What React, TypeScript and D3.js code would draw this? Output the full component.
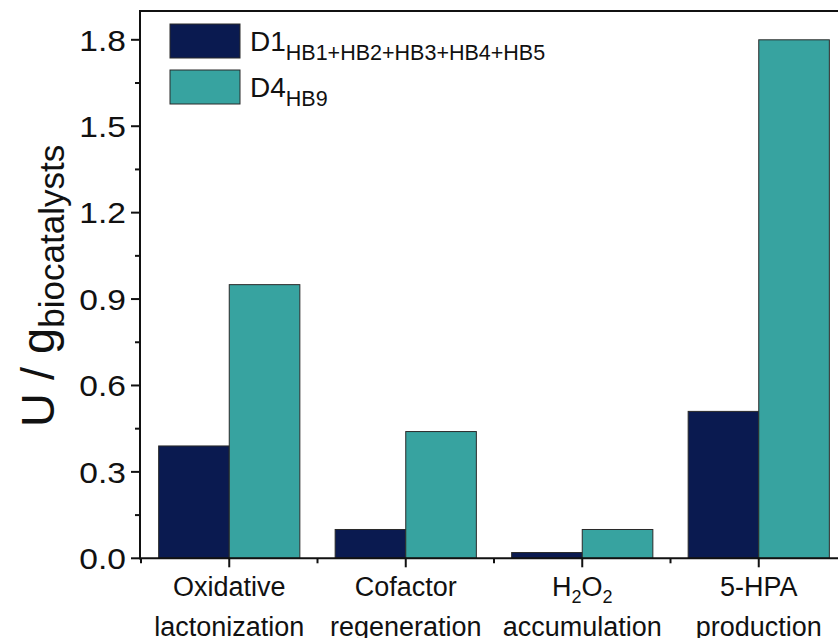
import React from "react";
import * as d3 from "d3";

const categories = ["Oxidative lactonization", "Cofactor regeneration", "H2O2 accumulation", "5-HPA production"];
const seriesNames = ["D1", "D4"];
const seriesD1 = [0.39, 0.1, 0.02, 0.51];
const seriesD4 = [0.95, 0.44, 0.1, 1.8];
const yTicks = [0, 0.3, 0.6, 0.9, 1.2, 1.5, 1.8];
const yMinorTicks = [0.15, 0.45, 0.75, 1.05, 1.35, 1.65];
const colors = ["#0a1a50", "#37a3a0"];

const W = 838;
const H = 638;
const left = 140;
const right = 847;
const top = 11;
const bottom = 558.3;
const FONT = "'Liberation Sans', Arial, Helvetica, sans-serif";

export default function App() {
  const x = d3.scaleBand<string>().domain(categories).range([left + 1, right]).paddingInner(0.2).paddingOuter(0.1);
  const xs = d3.scaleBand<string>().domain(seriesNames).range([0, x.bandwidth()]);
  const y = d3.scaleLinear().domain([0, 1.9]).range([bottom, top]);
  const series = [seriesD1, seriesD4];
  const step = x.step();

  const xLabel = (c: string) => {
    const cx = (x(c) as number) + x.bandwidth() / 2;
    const fs = 27;
    if (c.startsWith("H2O2")) {
      return (
        <g key={c}>
          <text x={cx} y={596} textAnchor="middle" fontSize={fs} fontFamily={FONT} fill="#111">
            H<tspan fontSize={18} dy={7}>2</tspan><tspan dy={-7}>O</tspan><tspan fontSize={18} dy={7}>2</tspan>
          </text>
          <text x={cx} y={636} textAnchor="middle" fontSize={fs} fontFamily={FONT} fill="#111">accumulation</text>
        </g>
      );
    }
    const parts = c.split(" ");
    return (
      <g key={c}>
        <text x={cx} y={596} textAnchor="middle" fontSize={fs} fontFamily={FONT} fill="#111">{parts[0]}</text>
        <text x={cx} y={636} textAnchor="middle" fontSize={fs} fontFamily={FONT} fill="#111">{parts[1]}</text>
      </g>
    );
  };

  return (
    <svg width={W} height={H} style={{ position: "absolute", left: 0, top: 0, background: "#fff" }}>
      {/* bars */}
      {categories.map((c, i) => (
        <g key={c} transform={`translate(${x(c)},0)`}>
          {series.map((s, j) => (
            <rect
              key={j}
              x={xs(seriesNames[j]) as number}
              y={y(s[i])}
              width={xs.bandwidth()}
              height={bottom - y(s[i])}
              fill={colors[j]}
              stroke="#2a2a2a"
              strokeWidth={1}
            />
          ))}
        </g>
      ))}

      {/* frame */}
      <line x1={left} x2={right} y1={top} y2={top} stroke="#111" strokeWidth={2} />
      <line x1={left} x2={left} y1={top - 1} y2={bottom + 1} stroke="#111" strokeWidth={2} />
      <line x1={left - 1} x2={right} y1={bottom} y2={bottom} stroke="#111" strokeWidth={2} />

      {/* y ticks */}
      {yTicks.map((t) => (
        <g key={t}>
          <line x1={left - 9} x2={left} y1={y(t)} y2={y(t)} stroke="#111" strokeWidth={2} />
          <text
            transform={`translate(126,${y(t)}) scale(1.12,1)`}
            dy="0.36em"
            textAnchor="end"
            fontSize={30}
            fontFamily={FONT}
            fill="#111"
          >
            {d3.format(".1f")(t)}
          </text>
        </g>
      ))}
      {yMinorTicks.map((t) => (
        <line key={t} x1={left - 5} x2={left} y1={y(t)} y2={y(t)} stroke="#111" strokeWidth={2} />
      ))}

      {/* x ticks */}
      {categories.map((c) => {
        const cx = (x(c) as number) + x.bandwidth() / 2;
        return <line key={c} x1={cx} x2={cx} y1={bottom} y2={bottom + 9} stroke="#111" strokeWidth={2} />;
      })}
      {categories.map((c) => {
        const bx = (x(c) as number) + x.bandwidth() / 2 - step / 2;
        return <line key={"m" + c} x1={bx} x2={bx} y1={bottom} y2={bottom + 5} stroke="#111" strokeWidth={2} />;
      })}

      {categories.map(xLabel)}

      {/* y label */}
      <text transform={`translate(54,427) rotate(-90)`} fontSize={47} fontFamily={FONT} fill="#111">
        U / g<tspan fontSize={35} dy={10}>biocatalysts</tspan>
      </text>

      {/* legend */}
      <rect x={170} y={24} width={70} height={34} fill={colors[0]} stroke="#2a2a2a" strokeWidth={1} />
      <rect x={170} y={70} width={70} height={34} fill={colors[1]} stroke="#2a2a2a" strokeWidth={1} />
      <text x={250} y={51} fontSize={28} fontFamily={FONT} fill="#111">
        D1<tspan fontSize={21.5} dy={9}>HB1+HB2+HB3+HB4+HB5</tspan>
      </text>
      <text x={250} y={97} fontSize={28} fontFamily={FONT} fill="#111">
        D4<tspan fontSize={21.5} dy={9}>HB9</tspan>
      </text>
    </svg>
  );
}
